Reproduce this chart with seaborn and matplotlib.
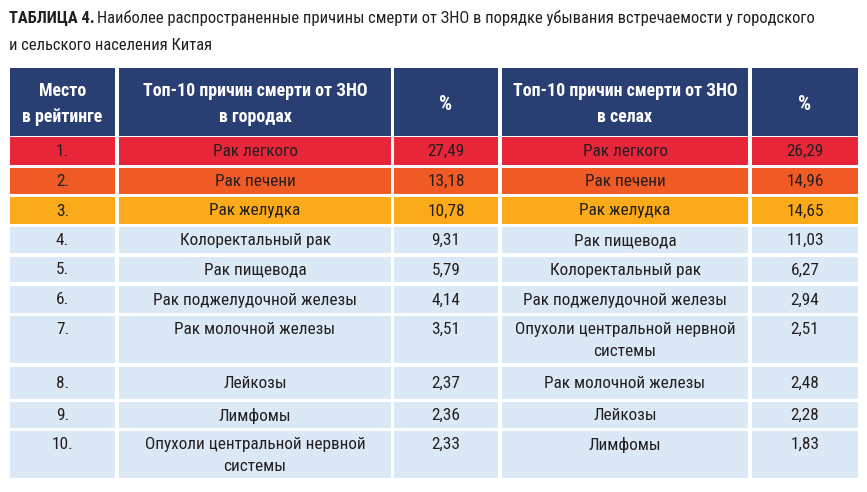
import matplotlib
matplotlib.use("Agg")
import matplotlib.pyplot as plt
from matplotlib import font_manager
from matplotlib.patches import Rectangle
import seaborn as sns

# ---------------- data ----------------
ranks = ["1.", "2.", "3.", "4.", "5.", "6.", "7.", "8.", "9.", "10."]
city_causes = ["Рак легкого", "Рак печени", "Рак желудка", "Колоректальный рак",
               "Рак пищевода", "Рак поджелудочной железы", "Рак молочной железы",
               "Лейкозы", "Лимфомы", "Опухоли центральной нервной\nсистемы"]
city_pct = [27.49, 13.18, 10.78, 9.31, 5.79, 4.14, 3.51, 2.37, 2.36, 2.33]
rural_causes = ["Рак легкого", "Рак печени", "Рак желудка", "Рак пищевода",
                "Колоректальный рак", "Рак поджелудочной железы",
                "Опухоли центральной нервной\nсистемы", "Рак молочной железы",
                "Лейкозы", "Лимфомы"]
rural_pct = [26.29, 14.96, 14.65, 11.03, 6.27, 2.94, 2.51, 2.48, 2.28, 1.83]
headers = ["Место\nв рейтинге", "Топ-10 причин смерти от ЗНО\nв городах", "%",
           "Топ-10 причин смерти от ЗНО\nв селах", "%"]
title_bold = "ТАБЛИЦА 4."
title_line1 = "Наиболее распространенные причины смерти от ЗНО в порядке убывания встречаемости у городского"
title_line2 = "и сельского населения Китая"

# ---------------- style ----------------
sns.set_theme(style="white")
avail = {f.name for f in font_manager.fontManager.ttflist}
FONT = "DejaVu Sans"
for cand in ["Liberation Sans Narrow", "Roboto Condensed", "Open Sans Condensed", "Noto Sans", "Liberation Sans"]:
    if cand in avail:
        FONT = cand
        break
plt.rcParams["font.family"] = [FONT, "DejaVu Sans"]

header_color = "#293f73"
row_colors = ["#e8263a", "#ef5a25", "#fbab1a"] + ["#dbe9f7"] * 7
text_color = "#231f20"

col_bounds = [(10, 115), (119, 391), (394, 498), (502, 748), (752, 858)]
header_bounds = (68, 136)
row_bounds = [(137, 165), (168, 194), (197, 224), (227, 253), (257, 282),
              (286, 313), (316, 363), (367, 399), (402, 428), (431, 478)]

W, H = 867, 492
fig = plt.figure(figsize=(W / 100, H / 100), dpi=100)
ax = fig.add_axes([0, 0, 1, 1])
ax.set_xlim(0, W)
ax.set_ylim(H, 0)
ax.axis("off")
renderer = fig.canvas.get_renderer()


def fit_size(s, target, weight="normal", base=12):
    t = ax.text(0, 0, s, fontsize=base, fontweight=weight)
    w = t.get_window_extent(renderer).width
    t.remove()
    return base * target / w


body_fs = fit_size("Опухоли центральной нервной", 222)
head_fs = fit_size("Топ-10 причин смерти от ЗНО", 226, "bold")
title_fs = fit_size(title_line1, 812 - 97)

# title
ax.text(9, 18, title_bold, fontsize=title_fs, fontweight="bold", color=text_color,
        va="center", ha="left")
ax.text(97, 18, title_line1, fontsize=title_fs, color=text_color, va="center", ha="left")
ax.text(9, 46, title_line2, fontsize=title_fs, color=text_color, va="center", ha="left")

# header
y0, y1 = header_bounds
for (x0, x1), h in zip(col_bounds, headers):
    ax.add_patch(Rectangle((x0, y0), x1 - x0, y1 - y0, color=header_color, lw=0))
    ax.text((x0 + x1) / 2, (y0 + y1) / 2 + 2, h, fontsize=head_fs * (1.15 if h == "%" else 1),
            fontweight="bold", color="white", ha="center", va="center", linespacing=1.55)

# body
fmt = lambda v: f"{v:.2f}".replace(".", ",")
for i, (r0, r1) in enumerate(row_bounds):
    cells = [ranks[i], city_causes[i], fmt(city_pct[i]), rural_causes[i], fmt(rural_pct[i])]
    tall = (r1 - r0) > 40
    for (x0, x1), s in zip(col_bounds, cells):
        ax.add_patch(Rectangle((x0, r0), x1 - x0, r1 - r0, color=row_colors[i], lw=0))
        if tall:
            ax.text((x0 + x1) / 2, r0 + 6, s, fontsize=body_fs, color=text_color,
                    ha="center", va="top", linespacing=1.55, multialignment="center")
        else:
            ax.text((x0 + x1) / 2, (r0 + r1) / 2 + 0.5, s, fontsize=body_fs, color=text_color,
                    ha="center", va="center")

fig.savefig("out.png", dpi=100)
